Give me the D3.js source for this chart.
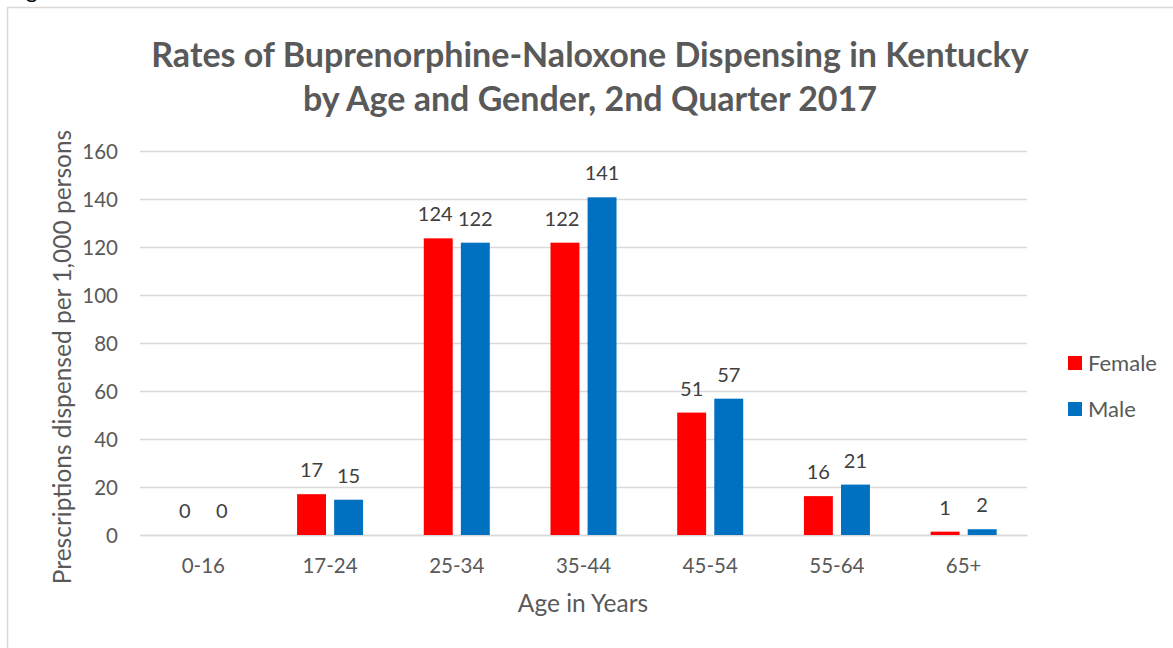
<!DOCTYPE html>
<html><head><meta charset="utf-8">
<script src="https://cdn.jsdelivr.net/npm/d3@7"></script>
<style>body{margin:0;background:#fff;} svg{display:block;}</style>
</head><body>
<script>
const categories = ["0-16","17-24","25-34","35-44","45-54","55-64","65+"];
const seriesNames = ["Female","Male"];
const female = [0, 17, 123.6, 121.8, 51, 16.2, 1.4];
const male = [0, 14.7, 121.8, 140.7, 56.8, 21, 2.4];
const femaleLabels = ["0","17","124","122","51","16","1"];
const maleLabels = ["0","15","122","141","57","21","2"];
const yTicks = [0,20,40,60,80,100,120,140,160];
const colors = ["#FF0000","#0070C0"];

const W=1173,H=648;
const font="Lato, 'Open Sans', sans-serif";
const svg=d3.select("body").append("svg").attr("width",W).attr("height",H);
svg.append("rect").attr("x",7.5).attr("y",7.5).attr("width",W+10).attr("height",H+10)
  .attr("fill","#fff").attr("stroke","#D9D9D9").attr("stroke-width",1.5);
svg.append("text").attr("x",26).attr("y",-2).attr("font-family",font).attr("font-size",22).attr("fill","#000").text("g");

const x0=d3.scaleBand().domain(categories).range([140,1027]).paddingInner(0).paddingOuter(0);
const y=d3.scaleLinear().domain([0,160]).range([535,151]);
const x1=d3.scaleBand().domain(seriesNames).range([x0.bandwidth()/2-33,x0.bandwidth()/2+33]).paddingInner(0.22);

// grid
svg.append("g").selectAll("line").data(yTicks).join("line")
  .attr("x1",140).attr("x2",1027).attr("y1",d=>Math.round(y(d))+0.5).attr("y2",d=>Math.round(y(d))+0.5)
  .attr("stroke","#D9D9D9").attr("stroke-width",1.5);

// y axis
const ya=svg.append("g").attr("transform","translate(118,0)").call(d3.axisLeft(y).tickValues(yTicks).tickSize(0).tickPadding(0));
ya.select(".domain").remove();
ya.selectAll("text").attr("font-family",font).attr("font-size",20.5).attr("fill","#595959").attr("dy","0.35em");

// x axis
const xa=svg.append("g").attr("transform","translate(0,535)").call(d3.axisBottom(x0).tickSize(0).tickPadding(23));
xa.select(".domain").attr("stroke","#D9D9D9").attr("stroke-width",1.5);
xa.selectAll("text").attr("font-family",font).attr("font-size",20.5).attr("fill","#595959");

const data=categories.map((c,i)=>({c,vals:[
  {s:"Female",v:female[i],l:femaleLabels[i],col:colors[0]},
  {s:"Male",v:male[i],l:maleLabels[i],col:colors[1]}]}));
const g=svg.append("g").selectAll("g").data(data).join("g").attr("transform",d=>`translate(${x0(d.c)},0)`);
g.selectAll("rect").data(d=>d.vals).join("rect")
  .attr("x",d=>x1(d.s)).attr("width",x1.bandwidth())
  .attr("y",d=>y(d.v)).attr("height",d=>y(0)-y(d.v)).attr("fill",d=>d.col);
g.selectAll("text").data(d=>d.vals).join("text")
  .attr("x",d=>x1(d.s)+x1.bandwidth()/2 + (d.s==="Female" && d.l.length>2 ? -3 : 0)).attr("y",d=>y(d.v)-17)
  .attr("text-anchor","middle").attr("font-family",font).attr("font-size",20).attr("fill","#404040").text(d=>d.l);

// title
const t=svg.append("text").attr("text-anchor","middle").attr("font-family",font).attr("font-weight","bold")
  .attr("font-size",34).attr("fill","#595959");
t.append("tspan").attr("x",590).attr("y",67).text("Rates of Buprenorphine-Naloxone Dispensing in Kentucky");
t.append("tspan").attr("x",590).attr("y",111).text("by Age and Gender, 2nd Quarter 2017");

// axis titles
svg.append("text").attr("transform","translate(71,357) rotate(-90)").attr("text-anchor","middle")
  .attr("font-family",font).attr("font-size",24.5).attr("fill","#595959").text("Prescriptions dispensed per 1,000 persons");
svg.append("text").attr("x",583).attr("y",612).attr("text-anchor","middle")
  .attr("font-family",font).attr("font-size",24.5).attr("fill","#595959").text("Age in Years");

// legend
const lg=svg.append("g").selectAll("g").data(seriesNames).join("g").attr("transform",(d,i)=>`translate(1068,${356+i*46})`);
lg.append("rect").attr("width",14).attr("height",14).attr("fill",(d,i)=>colors[i]);
lg.append("text").attr("x",20).attr("y",7).attr("dy","0.35em").attr("font-family",font).attr("font-size",22).attr("fill","#595959").text(d=>d);
</script>
</body></html>
